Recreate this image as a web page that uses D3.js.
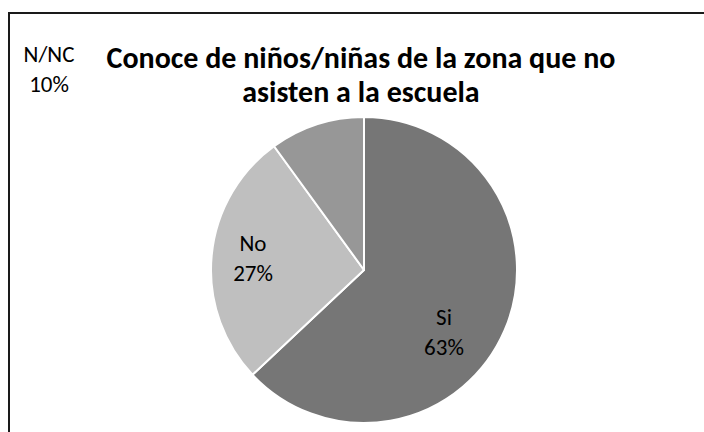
<!DOCTYPE html>
<html><head><meta charset="utf-8">
<script src="https://cdn.jsdelivr.net/npm/d3@7"></script>
<style>html,body{margin:0;padding:0;background:#fff;overflow:hidden;}svg{display:block;}</style>
</head><body>
<script>
const categories = ["Si", "No", "N/NC"];
const values = [63, 27, 10];
const percentLabels = ["63%", "27%", "10%"];
const sliceColors = ["#767676", "#bfbfbf", "#979797"];
const titleLines = ["Conoce de niños/niñas de la zona que no", "asisten a la escuela"];
// label block centres, relative to the pie centre
const labelOffsets = [[80, 62], [-111, -12], [-315, -201]];

const W = 704, H = 432;
const svg = d3.select("body").append("svg").attr("width", W).attr("height", H);
const font = "Carlito, Calibri, Lato, 'Open Sans', sans-serif";

// chart-area frame (only top and left edges fall inside the picture)
svg.append("path").attr("d", `M9,${H} V13 H${W}`)
  .attr("fill", "none").attr("stroke", "#1a1a1a").attr("stroke-width", 2);

const cx = 364, cy = 270, R = 153;
const pie = d3.pie().sort(null).value(d => d);
const arc = d3.arc().innerRadius(0).outerRadius(R);
const g = svg.append("g").attr("transform", `translate(${cx},${cy})`);
g.selectAll("path").data(pie(values)).join("path")
  .attr("d", arc).attr("fill", (d, i) => sliceColors[i])
  .attr("stroke", "#fff").attr("stroke-width", 2).attr("stroke-linejoin", "round");

const fs = 23;
const lab = g.selectAll("text.lab").data(categories).join("text").attr("class", "lab")
  .attr("text-anchor", "middle").attr("font-family", font).attr("font-size", fs).attr("fill", "#000");
lab.append("tspan").attr("x", (d, i) => labelOffsets[i][0]).attr("y", (d, i) => labelOffsets[i][1] - 7).text(d => d);
lab.append("tspan").attr("x", (d, i) => labelOffsets[i][0]).attr("y", (d, i) => labelOffsets[i][1] + 23).text((d, i) => percentLabels[i]);

svg.selectAll("text.title").data(titleLines).join("text").attr("class", "title")
  .attr("x", 361).attr("y", (d, i) => 68 + i * 34)
  .attr("text-anchor", "middle").attr("font-family", font).attr("font-weight", "bold")
  .attr("font-size", 30).attr("fill", "#000").text(d => d);
</script>
</body></html>
